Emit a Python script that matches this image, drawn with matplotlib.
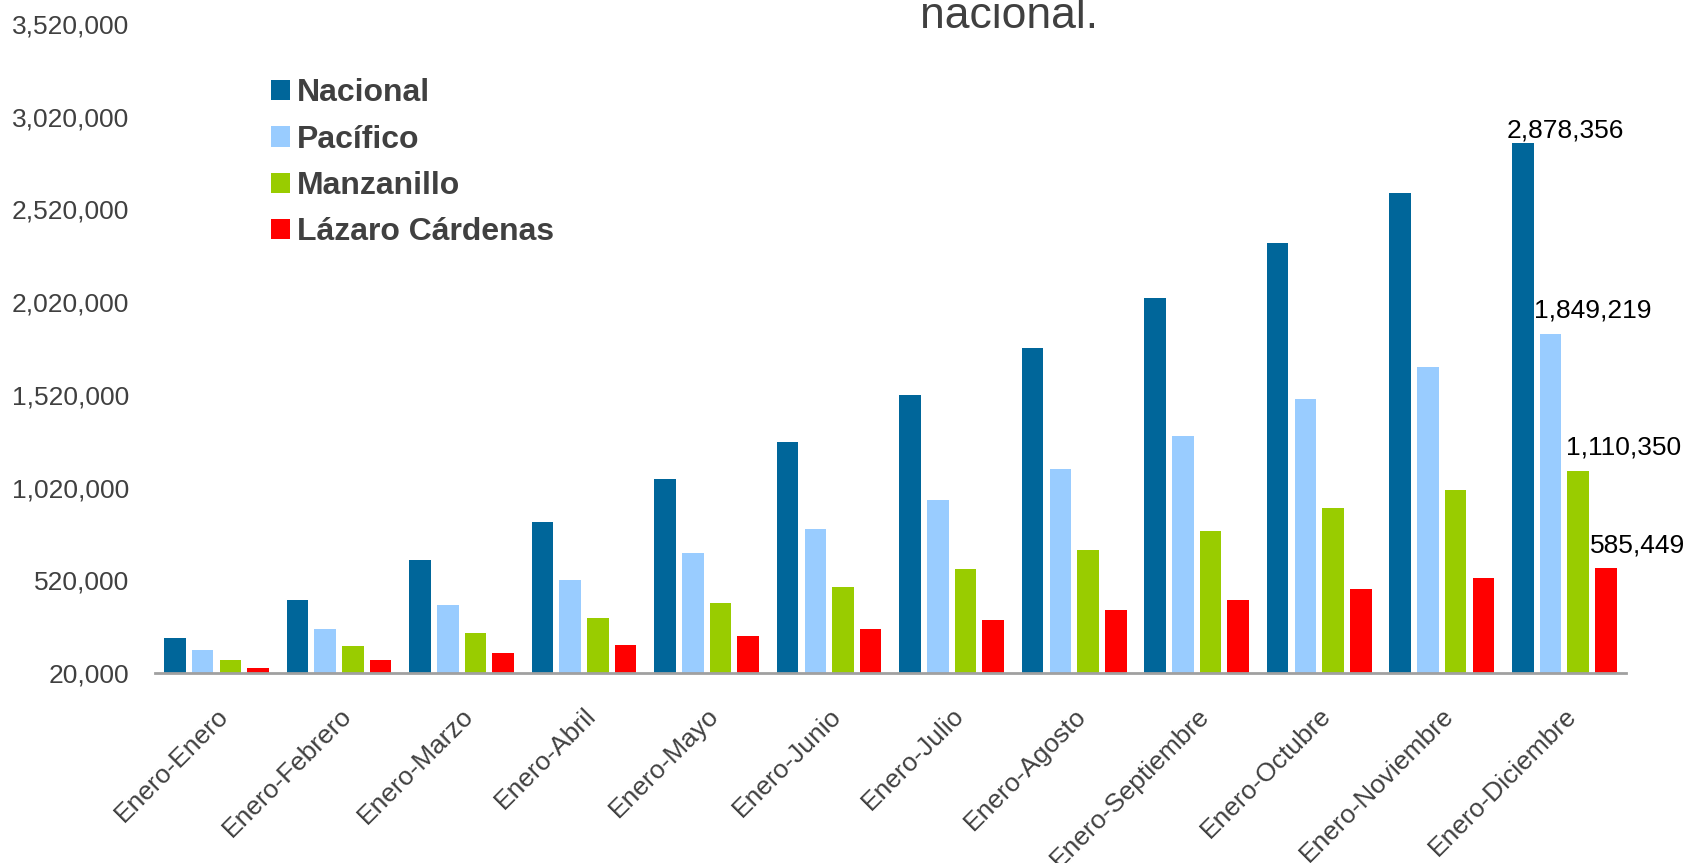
import matplotlib.pyplot as plt
import numpy as np

plt.rcParams['font.family'] = ['Liberation Sans', 'DejaVu Sans']

categorias = ['Enero-Enero', 'Enero-Febrero', 'Enero-Marzo', 'Enero-Abril', 'Enero-Mayo',
              'Enero-Junio', 'Enero-Julio', 'Enero-Agosto', 'Enero-Septiembre',
              'Enero-Octubre', 'Enero-Noviembre', 'Enero-Diciembre']

nacional = [211000, 415000, 630000, 833000, 1065000, 1268000, 1518000, 1774000,
            2041000, 2337000, 2610000, 2878356]
pacifico = [142000, 258000, 386000, 519000, 665000, 798000, 955000, 1118000,
            1298000, 1495000, 1669000, 1849219]
manzanillo = [90000, 165000, 235000, 316000, 397000, 484000, 583000, 682000,
              787000, 909000, 1007000, 1110350]
lazaro = [49000, 90000, 130000, 171000, 217000, 258000, 305000, 357000,
          415000, 473000, 531000, 585449]

series = ['Nacional', 'Pacífico', 'Manzanillo', 'Lázaro Cárdenas']
colores = ['#00669A', '#99CCFF', '#99CC00', '#FF0000']
yticks = np.arange(20000, 3520001, 500000)

gris = '#404040'

fig = plt.figure(figsize=(16.88, 8.63), dpi=100)
ax = fig.add_axes([0.092, 0.2202, 0.871, 0.752])

x = np.arange(len(categorias))
ancho = 0.176
paso = 0.226
datos = [nacional, pacifico, manzanillo, lazaro]
# desplazamiento de las etiquetas del último mes (puntos)
desp = [(-4, 0), (-4, 8), (-1, 8), (-4, 8)]
for k, (vals, nombre, col) in enumerate(zip(datos, series, colores)):
    pos = x + (k - 1.5) * paso
    ax.bar(pos, np.array(vals) - 20000, bottom=20000, width=ancho, color=col,
           label=nombre, edgecolor='none')
    ax.annotate(f'{vals[-1]:,}', (pos[-1] - ancho / 2, vals[-1]),
                xytext=desp[k], textcoords='offset points', ha='left', va='bottom',
                fontsize=19, color='black', annotation_clip=False)

ax.set_xlim(-0.5, len(categorias) - 0.5)
ax.set_ylim(20000, 3520000)
ax.set_yticks(yticks)
ax.set_yticklabels([f'{v:,}' for v in yticks])
ax.set_xticks(x)
ax.set_xticklabels(categorias, rotation=45, ha='right', rotation_mode='anchor')

ax.tick_params(axis='y', length=0, pad=19, labelsize=19, labelcolor=gris)
ax.tick_params(axis='x', length=0, pad=22, labelsize=19, labelcolor=gris)

for s in ['top', 'right', 'left']:
    ax.spines[s].set_visible(False)
ax.spines['bottom'].set_color('#A0A0A0')
ax.spines['bottom'].set_linewidth(2)

leg = ax.legend(loc='upper left', bbox_to_anchor=(0.153, 0.924), bbox_transform=fig.transFigure,
                frameon=False, fontsize=23, handlelength=0.6, handleheight=0.6,
                handletextpad=0.2, labelspacing=0.51, borderaxespad=0)
for t in leg.get_texts():
    t.set_color(gris)
    t.set_fontweight('bold')

fig.text(0.598, 0.967, 'nacional.', ha='center', va='baseline', fontsize=32, color=gris)

fig.savefig('out.png', dpi=100)
